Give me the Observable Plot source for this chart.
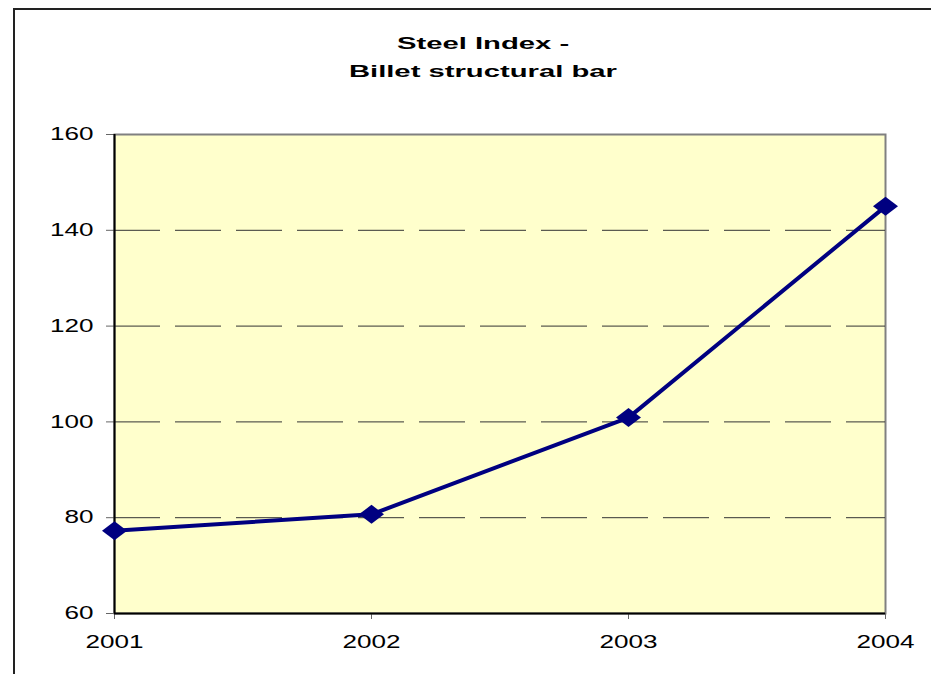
<!DOCTYPE html>
<html>
<head>
<meta charset="utf-8">
<script src="https://cdn.jsdelivr.net/npm/d3@7"></script>
<script src="https://cdn.jsdelivr.net/npm/@observablehq/plot@0.6"></script>
<style>
  html, body { margin: 0; padding: 0; background: #fff; }
  #wrap { position: relative; width: 931px; height: 674px; overflow: hidden; font-family: "Liberation Sans", Arial, sans-serif; }
  #outer { position: absolute; left: 13px; top: 8px; width: 1000px; height: 800px; border: 2px solid #222; box-sizing: border-box; pointer-events: none; }
  #title { position: relative; height: 100px; }
  .tline { position: absolute; left: 0; width: 966px; text-align: center; font-weight: bold; font-size: 17px; line-height: 28px; color: #000; }
  .tline span { display: inline-block; transform: scaleX(1.72); transform-origin: center; }
  #chart svg { display: block; }
</style>
</head>
<body>
<div id="wrap">
  <div id="outer"></div>
  <div id="title">
    <div class="tline" style="top:30px"><span id="t1"></span></div>
    <div class="tline" style="top:58px"><span id="t2"></span></div>
  </div>
  <div id="chart"></div>
</div>
<script>
const titleLines = ["Steel Index -", "Billet structural bar"];
const years = [2001, 2002, 2003, 2004];
const values = [77.3, 80.7, 100.9, 145];
const yTicks = [60, 80, 100, 120, 140, 160];
const gridValues = [80, 100, 120, 140];

document.getElementById("t1").textContent = titleLines[0];
document.getElementById("t2").textContent = titleLines[1];

const data = years.map((year, i) => ({year, value: values[i]}));
const navy = "#000080";

const wideDiamond = {
  draw(context, size) {
    const r = Math.sqrt(size / Math.PI);
    const w = r * 1.25, h = r * 0.95;
    context.moveTo(0, -h);
    context.lineTo(w, 0);
    context.lineTo(0, h);
    context.lineTo(-w, 0);
    context.closePath();
  }
};

const plot = Plot.plot({
  width: 931,
  height: 574,
  marginTop: 34,
  marginBottom: 61,
  marginLeft: 114,
  marginRight: 46,
  style: {fontFamily: "'Liberation Sans', Arial, sans-serif", fontSize: "18px", background: "transparent", color: "#000", overflow: "visible"},
  x: {type: "linear", domain: [years[0], years[years.length - 1]]},
  y: {domain: [yTicks[0], yTicks[yTicks.length - 1]]},
  marks: [
    Plot.frame({fill: "#FFFFCC", stroke: "#808080", strokeWidth: 2}),
    Plot.ruleY(gridValues, {stroke: "#333", strokeWidth: 1, strokeDasharray: "46,15"}),
    Plot.axisY({ticks: yTicks, tickSize: 8, tickPadding: 13, tickFormat: d => String(d), stroke: "#666", label: null}),
    Plot.axisX({ticks: years, tickSize: 6, tickPadding: 16, tickFormat: d => String(d), stroke: "#666", label: null}),
    Plot.ruleX([years[0]], {stroke: "#000", strokeWidth: 2}),
    Plot.ruleY([yTicks[0]], {stroke: "#000", strokeWidth: 2}),
    Plot.line(data, {x: "year", y: "value", stroke: navy, strokeWidth: 4}),
    Plot.dot(data, {x: "year", y: "value", r: 10, symbol: wideDiamond, fill: navy, stroke: "none"})
  ]
});
document.getElementById("chart").appendChild(plot);

// horizontal stretch of tick labels, as in the reference
plot.querySelectorAll('g[aria-label$="tick label"] text').forEach(t => {
  const tr = t.getAttribute("transform");
  if (tr) {
    t.setAttribute("transform", tr + " scale(1.45,1)");
  } else {
    const x = +t.getAttribute("x") || 0;
    t.removeAttribute("x");
    t.setAttribute("transform", `translate(${x},0) scale(1.45,1)`);
  }
});
</script>
</body>
</html>
